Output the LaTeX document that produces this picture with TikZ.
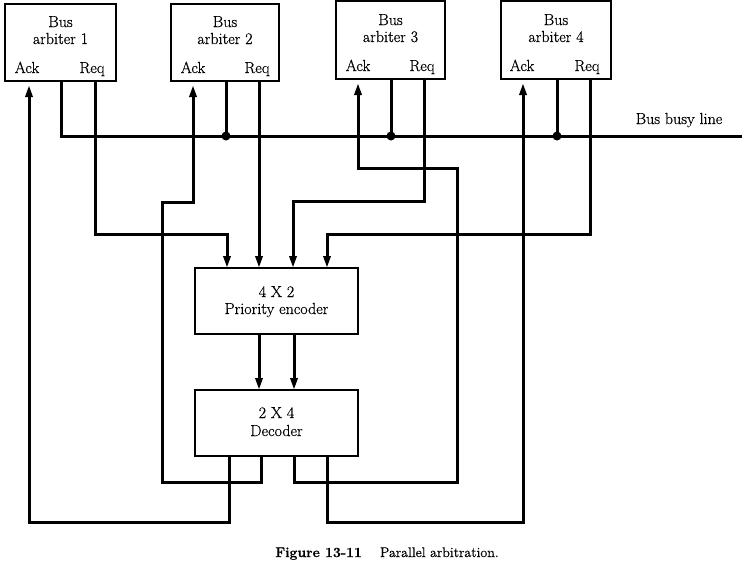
\documentclass[tikz,border=0pt]{standalone}
\usepackage{fontspec}
\newfontfamily\lblfont{Latin Modern Roman}[FakeBold=0.5]
\usetikzlibrary{arrows.meta}
\begin{document}
\begin{tikzpicture}[x=1pt,y=-1pt,
  box/.style={draw, line width=1.6pt, inner sep=0pt},
  wire/.style={line width=3pt},
  arr/.style={wire,-{Triangle[length=12pt,width=7pt]}},
  lbl/.style={font=\lblfont\fontsize{16}{18}\selectfont, inner sep=0pt, anchor=base},
  jdot/.style={circle, fill, inner sep=0pt, minimum size=9pt}]
\useasboundingbox (0,0) rectangle (744,571);

% arbiters
\node[box, minimum width=111pt, minimum height=77pt] (arb1) at (60.5,42.5) {};
\node[box, minimum width=108pt, minimum height=77pt] (arb2) at (225,42.5) {};
\node[box, minimum width=109pt, minimum height=78pt] (arb3) at (390.5,40) {};
\node[box, minimum width=110pt, minimum height=78pt] (arb4) at (556,40) {};

\node[lbl] (b1) at (60.5,27) {Bus};  \node[lbl] (n1) at (60.5,44) {arbiter 1};
\node[lbl] (b2) at (225,27) {Bus};   \node[lbl] (n2) at (225,44) {arbiter 2};
\node[lbl] (b3) at (390.5,25) {Bus}; \node[lbl] (n3) at (390.5,42) {arbiter 3};
\node[lbl] (b4) at (556,25) {Bus};   \node[lbl] (n4) at (556,42) {arbiter 4};

\node[lbl] (ack1) at (27,73) {Ack};  \node[lbl] (req1) at (92,73) {Req};
\node[lbl] (ack2) at (193,73) {Ack}; \node[lbl] (req2) at (257,73) {Req};
\node[lbl] (ack3) at (358,71) {Ack}; \node[lbl] (req3) at (422,71) {Req};
\node[lbl] (ack4) at (522,71) {Ack}; \node[lbl] (req4) at (587,71) {Req};

% encoder / decoder
\node[box, minimum width=163pt, minimum height=66pt] (enc) at (276.5,301) {};
\node[lbl] (et1) at (276.5,297) {4 X 2};
\node[lbl] (et2) at (276.5,314) {Priority encoder};
\node[box, minimum width=163pt, minimum height=66pt] (dec) at (276.5,423) {};
\node[lbl] (dt1) at (276.5,418) {2 X 4};
\node[lbl] (dt2) at (276.5,436) {Decoder};

\node[lbl] (busy) at (679,124) {Bus busy line};
\node[lbl, font=\lblfont\fontsize{14}{16}\selectfont] (cap) at (387,557) {\textbf{Figure 13-11}\hspace{1.3em}Parallel arbitration.};

% port coordinates on arbiters
\coordinate (a1ack) at (29,85);   \coordinate (a1bsy) at (61,81);  \coordinate (a1req) at (95,81);
\coordinate (a2ack) at (193,85);  \coordinate (a2bsy) at (226,81); \coordinate (a2req) at (259,81);
\coordinate (a3ack) at (358,83);  \coordinate (a3bsy) at (391,79); \coordinate (a3req) at (424,79);
\coordinate (a4ack) at (523,83);  \coordinate (a4bsy) at (557,79); \coordinate (a4req) at (590,79);

% encoder inputs
\coordinate (ein1) at (227,268); \coordinate (ein2) at (259,268);
\coordinate (ein3) at (293,268); \coordinate (ein4) at (327,268);
% encoder outputs / decoder inputs
\coordinate (eo1) at (259,334); \coordinate (eo2) at (294,334);
\coordinate (di1) at (259,390); \coordinate (di2) at (294,390);
% decoder outputs
\coordinate (do1) at (229,456); \coordinate (do2) at (261,456);
\coordinate (do3) at (294,456); \coordinate (do4) at (327,456);

% bus busy line
\coordinate (busyL) at (61,136);
\coordinate (busyR) at (742,136);
\coordinate (j2) at (226,136); \coordinate (j3) at (391,136); \coordinate (j4) at (557,136);
\draw[wire] (a1bsy) -- (busyL) -- (busyR);
\draw[wire] (a2bsy) -- (j2);
\draw[wire] (a3bsy) -- (j3);
\draw[wire] (a4bsy) -- (j4);
\node[jdot] at (j2) {};
\node[jdot] at (j3) {};
\node[jdot] at (j4) {};

% requests
\coordinate (r1a) at (95,234);  \coordinate (r1b) at (227,234);
\coordinate (r3a) at (424,201); \coordinate (r3b) at (293,201);
\coordinate (r4a) at (590,234); \coordinate (r4b) at (327,234);
\draw[arr] (a1req) -- (r1a) -- (r1b) -- (ein1);
\draw[arr] (a2req) -- (ein2);
\draw[arr] (a3req) -- (r3a) -- (r3b) -- (ein3);
\draw[arr] (a4req) -- (r4a) -- (r4b) -- (ein4);

% encoder to decoder
\draw[arr] (eo1) -- (di1);
\draw[arr] (eo2) -- (di2);

% acknowledges
\coordinate (k1a) at (229,522); \coordinate (k1b) at (29,522);
\coordinate (k2a) at (261,482); \coordinate (k2b) at (162,482); \coordinate (k2c) at (162,202); \coordinate (k2d) at (193,202);
\coordinate (k3a) at (294,482); \coordinate (k3b) at (457,482); \coordinate (k3c) at (457,168); \coordinate (k3d) at (358,168);
\coordinate (k4a) at (327,522); \coordinate (k4b) at (523,522);
\draw[arr] (do1) -- (k1a) -- (k1b) -- (a1ack);
\draw[arr] (do2) -- (k2a) -- (k2b) -- (k2c) -- (k2d) -- (a2ack);
\draw[arr] (do3) -- (k3a) -- (k3b) -- (k3c) -- (k3d) -- (a3ack);
\draw[arr] (do4) -- (k4a) -- (k4b) -- (a4ack);
\end{tikzpicture}
\end{document}
